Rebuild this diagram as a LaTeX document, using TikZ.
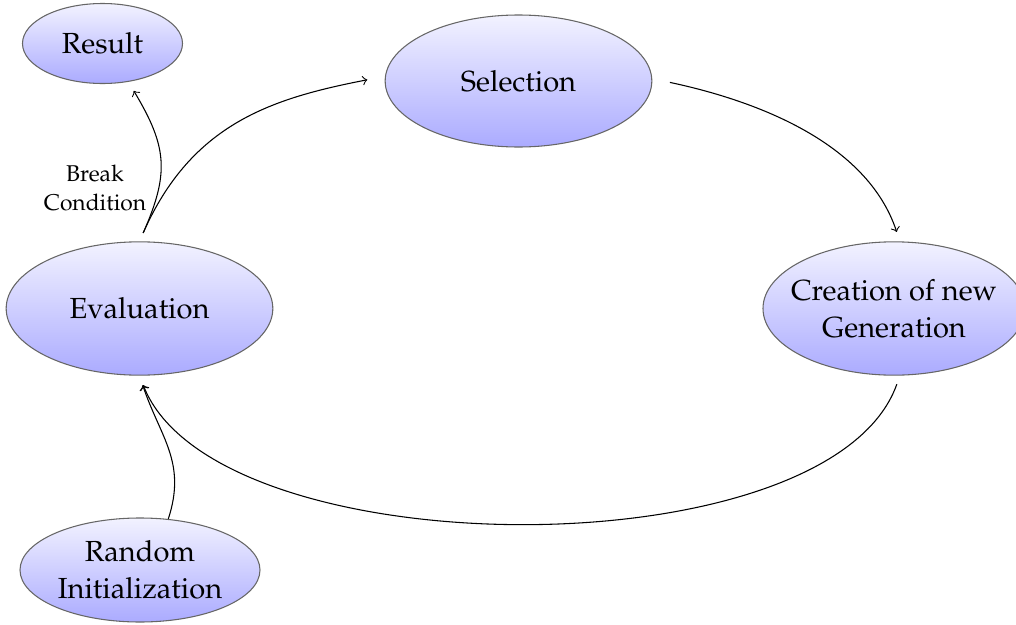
\documentclass[tikz,border=0pt]{standalone}
\usepackage[T1]{fontenc}
\usepackage{mathpazo}
\usetikzlibrary{shapes.geometric}
\begin{document}
\begin{tikzpicture}[x=0.375pt,y=-0.375pt,
  state/.style={ellipse, draw=black!60, line width=0.4pt, top color=blue!5, bottom color=blue!33,
    inner sep=0pt, align=center, font=\fontsize{10.9}{13.75}\selectfont},
  conn/.style={->, >=to, line width=0.4pt},
  lbl/.style={align=center, inner sep=0pt, font=\fontsize{8.55}{10.9}\selectfont}]
\useasboundingbox (0,0) rectangle (1016,625);
\node[state, minimum width=60pt, minimum height=30pt] (result) at (102.5,43.5) {Result};
\node[state, minimum width=100pt, minimum height=49.5pt] (sel) at (518.5,81) {Selection};
\node[state, minimum width=98.25pt, minimum height=50pt, inner xsep=-6pt] (cre) at (894,308.5) {Creation of new\\Generation};
\node[state, minimum width=100pt, minimum height=50pt] (eval) at (139.5,308.5) {Evaluation};
\node[state, minimum width=90pt, minimum height=39pt] (rand) at (140,570) {Random\\Initialization};
% Evaluation -> Selection
\draw[conn, shorten <=3.4pt, shorten >=6.75pt] (eval.north) .. controls +(52,-118) and +(-113,22) .. (sel.178);
% Evaluation -> Result (Break Condition)
\draw[conn, shorten <=3.4pt, shorten >=3.9pt] (eval.north) .. controls +(30,-68) and +(39,65) .. (result.-56)
  node[lbl] (bc) at (95,188) {Break\\Condition};
% Selection -> Creation
\draw[conn, shorten <=6.75pt, shorten >=3.75pt] (sel.1) .. controls +(102.7,21.8) and +(-33.2,-99.6) .. (cre.85);
% Creation -> Evaluation
\draw[conn, shorten <=3.4pt, shorten >=3.75pt] (cre.-85) .. controls +(-69.7,197) and +(76.5,194) .. (eval.south);
% Random -> Evaluation
\draw[conn, shorten >=3.75pt] (rand.61) .. controls +(18.6,-57) and +(20.8,61.75) .. (eval.south);
\end{tikzpicture}
\end{document}
